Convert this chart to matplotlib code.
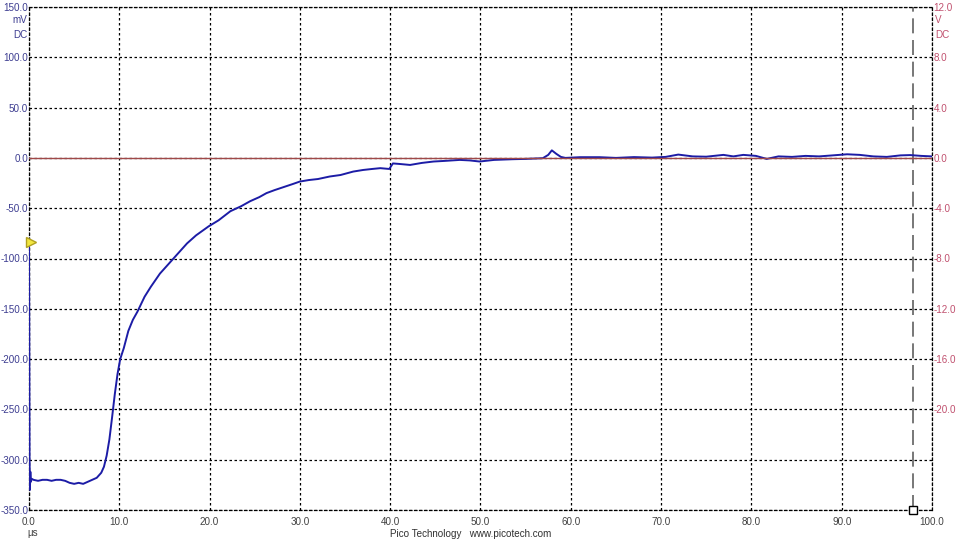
import numpy as np
from matplotlib import pyplot as plt

plt.rcParams['font.family'] = ['Liberation Sans', 'DejaVu Sans']

# channel A trace (us, mV)
t_us = [0.0, 0.03, 0.06, 0.1, 0.15, 0.2, 0.3, 0.5, 1.0, 1.5, 2.0, 2.5, 3.0, 3.5,
        4.0, 4.5, 5.0, 5.5, 6.0, 6.5, 7.0, 7.5, 8.0, 8.3, 8.6, 8.9, 9.2, 9.5,
        9.8, 10.1, 10.5, 11.0, 11.5, 12.0, 12.8, 13.5, 14.5, 15.2, 16.0, 16.8,
        17.5, 18.5, 19.9, 21.0, 22.3, 23.5, 24.5, 25.5, 26.3, 27.2, 28.2, 29.2,
        30.0, 31.0, 32.0, 33.3, 34.5, 35.9, 37.0, 38.0, 38.9, 39.9, 40.3, 41.0,
        42.2, 43.5, 44.8, 46.0, 47.7, 48.8, 49.9, 51.5, 53.6, 55.0, 56.9, 57.5,
        57.9, 58.4, 58.9, 59.4, 61.0, 63.2, 65.0, 67.0, 69.0, 70.5, 71.9, 73.5,
        75.0, 76.9, 78.0, 79.1, 80.5, 81.7, 83.0, 84.5, 86.0, 87.5, 89.0, 90.6,
        92.0, 93.5, 95.0, 96.5, 97.6, 98.8, 100.0]
chA_mV = [-84, -170, -300, -330, -312, -322, -319, -320, -321, -320, -320, -321,
          -320, -320, -321, -323, -324, -323, -324, -322, -320, -318, -313, -307,
          -296, -280, -258, -235, -215, -200, -189, -172, -161, -153, -138, -128,
          -115, -108, -100, -92, -85, -77, -68, -62, -53, -48, -43, -39, -35, -32,
          -29, -26, -23.5, -22, -21, -18.5, -17, -13.6, -12, -11, -10.2, -11,
          -5.5, -6, -7, -5, -3.6, -3, -2, -2.5, -3.6, -2, -1.3, -1, -0.3, 3, 7.5,
          4, 1, 0, 0.7, 0.7, 0, 0.8, 0.3, 1, 3.3, 1.5, 1.2, 3, 1.5, 3, 2, -1,
          1.5, 1, 2, 1.5, 2.5, 3.6, 3, 1.5, 1, 2.5, 2.8, 2, 1.5]

# channel B sits flat at 0 V
t_b = [0.0, 100.0]
chB_V = [0.0, 0.0]

x_ticks = [0, 10, 20, 30, 40, 50, 60, 70, 80, 90, 100]
left_ticks = [150, 100, 50, 0, -50, -100, -150, -200, -250, -300, -350]
right_ticks = [12, 8, 4, 0, -4, -8, -12, -16, -20]

trigger_mV = -84
ruler_us = 97.9

blue_txt = '#3c3c90'
red_txt = '#c0506e'
fs = 7.1

fig = plt.figure(figsize=(9.6, 5.4), dpi=100)
ax = fig.add_axes([29/960, 1 - 510/540, 903/960, 503/540])

ax.set_xlim(0, 100)
ax.set_ylim(-350, 150)
ax.set_xticks(x_ticks)
ax.set_yticks(left_ticks)
ax.set_xticklabels(['%.1f' % v for v in x_ticks])
ax.set_yticklabels(['%.1f' % v for v in left_ticks])
ax.grid(True, color='black', linestyle=(0, (2, 2)), linewidth=0.9)
for s in ax.spines.values():
    s.set_linestyle((0, (2, 2)))
    s.set_linewidth(0.9)
ax.tick_params(axis='both', length=0, labelsize=fs)
ax.tick_params(axis='y', colors=blue_txt, pad=0.5)
ax.tick_params(axis='x', colors='#404040', pad=5)

ax2 = ax.twinx()
ax2.set_ylim(-28, 12)
ax2.set_yticks(right_ticks)
ax2.set_yticklabels(['%.1f' % v for v in right_ticks])
ax2.tick_params(axis='y', length=0, labelsize=fs, colors=red_txt, pad=1)
for s in ax2.spines.values():
    s.set_visible(False)

ax2.plot(t_b, chB_V, color='#a04848', linewidth=1.0)
ax.plot(t_us, chA_mV, color='#1c1ca6', linewidth=1.4, zorder=5)

ax.axvline(ruler_us, color='#606060', linestyle=(0, (9, 4)), linewidth=1.2)
ax.plot([ruler_us], [-350], marker='s', markersize=6, markerfacecolor='white',
        markeredgecolor='black', clip_on=False, zorder=6)
ax.plot([0.25], [trigger_mV], marker='>', markersize=7, markerfacecolor='#f2e640',
        markeredgecolor='#b0a020', clip_on=False, zorder=7)

fig.text(20/960, 1 - 20/540, 'mV', color=blue_txt, fontsize=fs, ha='center', va='center')
fig.text(20/960, 1 - 35/540, 'DC', color=blue_txt, fontsize=fs, ha='center', va='center')
fig.text(935/960, 1 - 20/540, 'V', color=red_txt, fontsize=fs, ha='left', va='center')
fig.text(935/960, 1 - 35/540, 'DC', color=red_txt, fontsize=fs, ha='left', va='center')
fig.text(33/960, 1 - 533/540, 'µs', color='#404040', fontsize=fs, ha='center', va='center')
fig.text(471/960, 1 - 534/540, 'Pico Technology   www.picotech.com', color='#303030',
         fontsize=fs, ha='center', va='center')

fig.savefig('out.png', dpi=100)
